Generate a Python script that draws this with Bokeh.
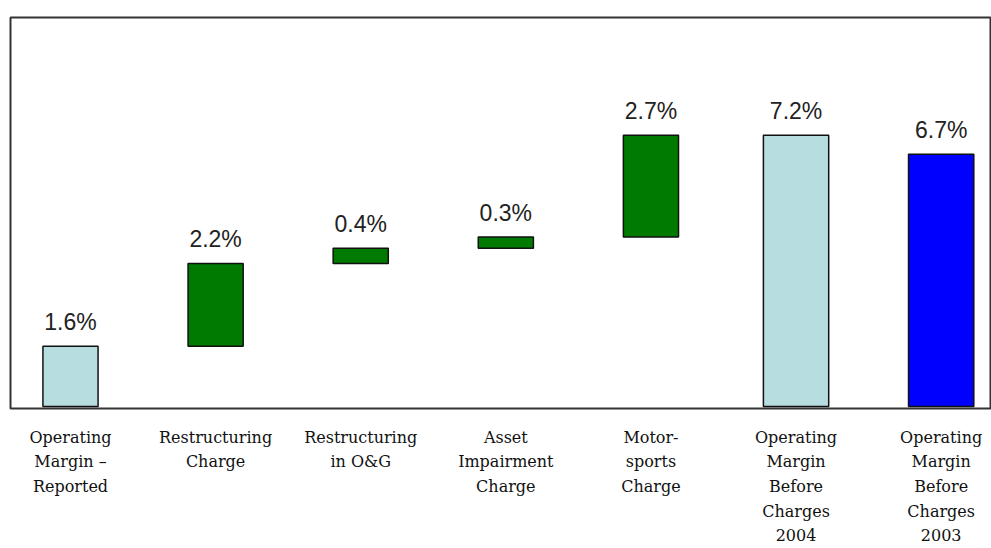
import numpy as np
from bokeh.plotting import figure
from bokeh.models import ColumnDataSource, Range1d, LinearAxis, FixedTicker
from bokeh.core.properties import value
from bokeh.embed import file_html
from bokeh.resources import INLINE

# ---- data ----
categories = [
    "Operating\nMargin \u2013\nReported",
    "Restructuring\nCharge",
    "Restructuring\nin O&G",
    "Asset\nImpairment\nCharge",
    "Motor-\nsports\nCharge",
    "Operating\nMargin\nBefore\nCharges\n2004",
    "Operating\nMargin\nBefore\nCharges\n2003",
]
values = [1.6, 2.2, 0.4, 0.3, 2.7, 7.2, 6.7]
kinds = ["reported", "delta", "delta", "delta", "delta", "total", "prior"]

# ---- waterfall geometry from data ----
pos = list(range(len(categories)))
bottoms, tops = [], []
running = 0.0
for v, k in zip(values, kinds):
    if k == "delta":
        bottoms.append(running)
        tops.append(running + v)
        running += v
    else:
        bottoms.append(0.0)
        tops.append(v)
        if k == "reported":
            running = v

color_map = {"reported": "#B7DDE1", "total": "#B7DDE1", "delta": "#007A00", "prior": "#0000FF"}
width_map = {"reported": 0.38, "total": 0.45, "delta": 0.38, "prior": 0.45}
src = ColumnDataSource(dict(
    x=pos,
    bottom=bottoms,
    top=tops,
    color=[color_map[k] for k in kinds],
    w=[width_map[k] for k in kinds],
    label=["%.1f%%" % v for v in values],
))

p = figure(width=991, height=548, output_backend="svg", toolbar_location=None,
           x_range=Range1d(-0.4135, 6.34), y_range=Range1d(-0.053, 10.33),
           x_axis_location=None, y_axis_location=None,
           min_border_left=10, min_border_right=1, min_border_top=17, min_border_bottom=140)
p.xgrid.visible = False
p.ygrid.visible = False
p.outline_line_color = "#333333"
p.outline_line_width = 2
p.background_fill_color = "white"
p.border_fill_color = "white"

p.vbar(x="x", bottom="bottom", top="top", width="w", fill_color="color",
       line_color="#111111", line_width=1.5, source=src)

p.text(x="x", y="top", text="label", source=src, text_align="center",
       text_baseline="bottom", y_offset=-11, text_font=value("Liberation Sans"),
       text_font_size="23px", text_color="#222222")

ax = LinearAxis(ticker=FixedTicker(ticks=pos),
                major_label_overrides={i: c for i, c in zip(pos, categories)})
ax.axis_line_color = None
ax.major_tick_line_color = None
ax.minor_tick_line_color = None
ax.major_label_standoff = 13
ax.major_label_text_font = "DejaVu Serif"
ax.major_label_text_font_size = "16px"
ax.major_label_text_color = "#111111"
ax.major_label_text_line_height = 1.3
p.add_layout(ax, "below")

open("out.html", "w").write(file_html(p, INLINE))
